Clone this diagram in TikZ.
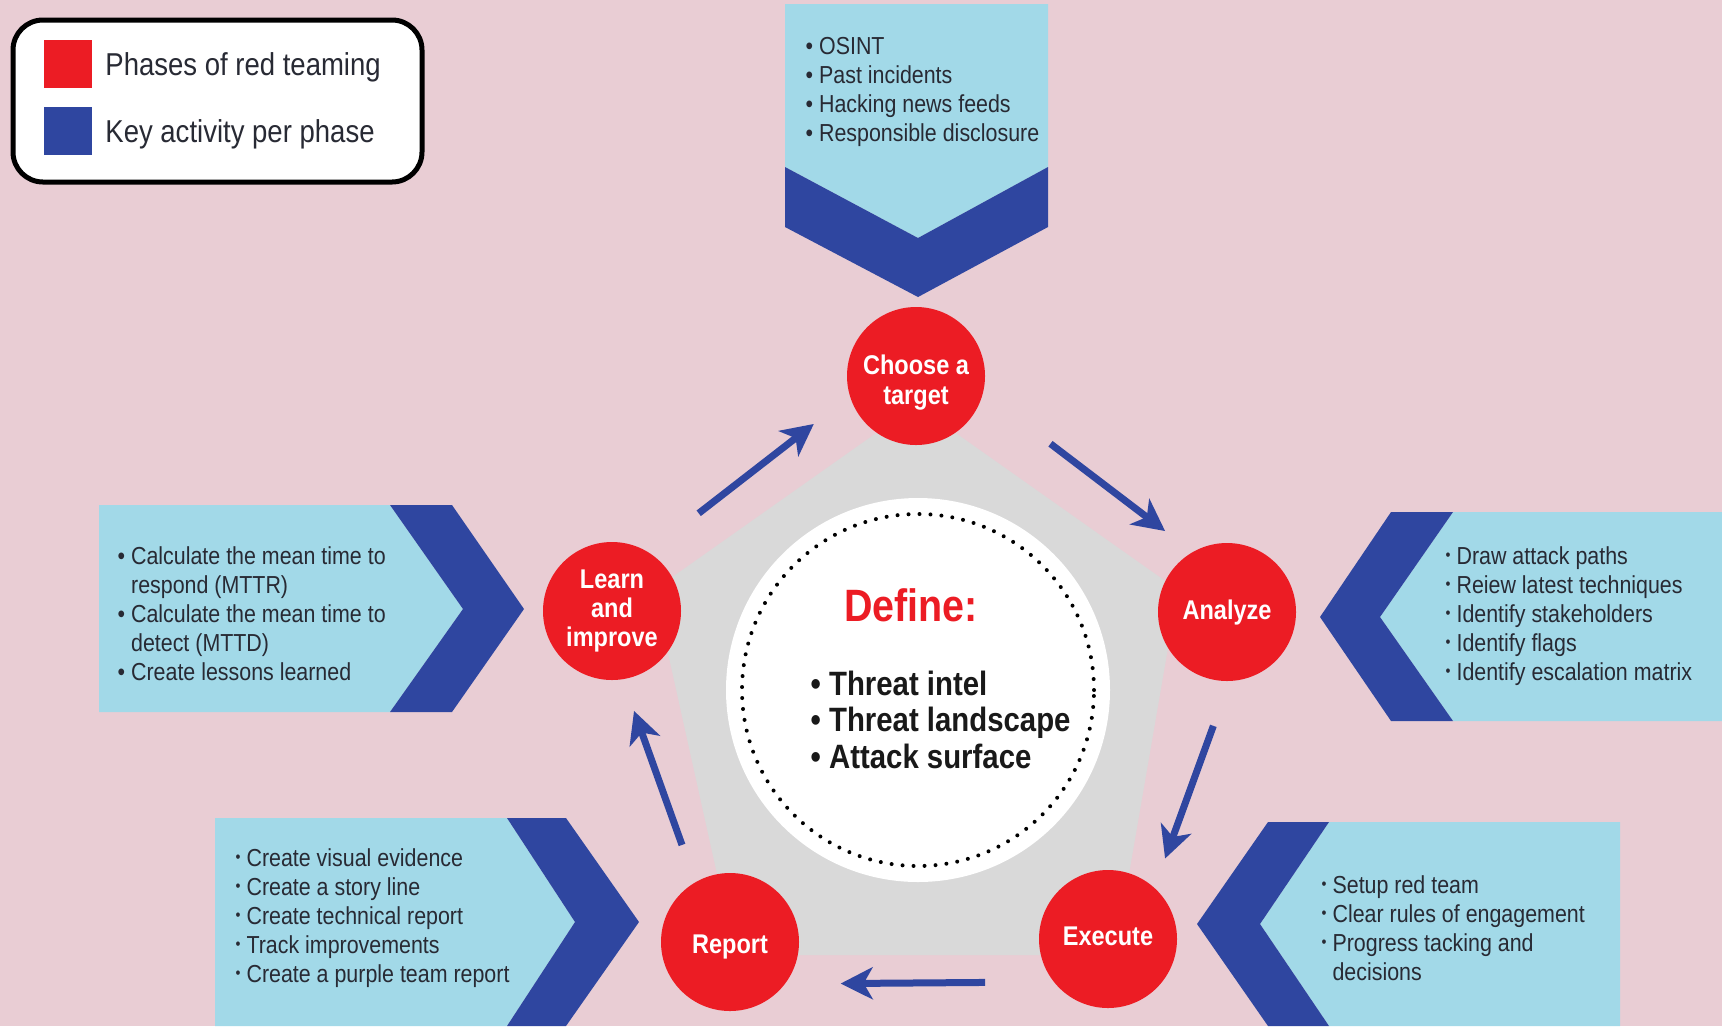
\documentclass[tikz,border=0pt]{standalone}
\usepackage{fontspec}
\setmainfont{Liberation Sans}[FakeStretch=0.87]
\usepackage{tikz}
\usetikzlibrary{arrows.meta}
\usetikzlibrary{positioning}
\definecolor{bgpink}{RGB}{233,205,212}
\definecolor{lightblue}{RGB}{162,217,232}
\definecolor{darkblue}{RGB}{47,70,160}
\definecolor{phasered}{RGB}{236,28,36}
\definecolor{hubgray}{RGB}{217,217,217}
\definecolor{inktext}{RGB}{40,42,52}
\tikzset{phase/.style = {circle, fill = phasered, text = white, minimum size = 13.8mm,
                         inner sep = 0, align = center,
                         font = \bfseries\fontsize{7.7}{8.3}\selectfont}}
\tikzset{notes/.style = {anchor = north west, inner sep = 0, align = left, text = inktext,
                         font = \fontsize{7}{8.25}\selectfont}}
\tikzset{flow/.style = {draw = darkblue, line width = 0.7mm,
                        -{Stealth[length = 3.2mm, width = 3.2mm, inset = 0.9mm]}}}
\tikzset{keysq/.style = {minimum size = 4.8mm, inner sep = 0}}
\tikzset{keytext/.style = {inner sep = 0, yshift = -0.3mm, text = inktext, font = \fontsize{9}{10}\selectfont}}
\newcommand{\bigbul}{\textbullet\ }
\newcommand{\smallbul}{\raisebox{1.2pt}{\fontsize{4.6}{4.6}\selectfont\textbullet}\ }

\begin{document}
\begin{tikzpicture}[x = 0.1mm, y = -0.1mm]
    \useasboundingbox (0, 0) rectangle (1722, 1026);
    \fill [bgpink] (0, 0) rectangle (1722, 1026);

    \fill [hubgray] (916, 405) -- (1178, 590) -- (1115, 955) -- (735, 955) -- (654, 590) -- cycle;
    \node [circle, fill = white, minimum size = 38.4mm, inner sep = 0] (hub) at (918, 690) {};
    \draw [line width = 0.4mm, line cap = round, dash pattern = on 0mm off 1.1mm] (hub.center) circle [radius = 17.6mm];

    \fill [lightblue] (785, 4) -- (1048, 4) -- (1048, 167) -- (918, 238) -- (785, 167) -- cycle;
    \fill [darkblue] (785, 167) -- (918, 238) -- (1048, 167) -- (1048, 227) -- (918, 297) -- (785, 227) -- cycle;
    \fill [lightblue] (99, 505) -- (390, 505) -- (463, 609) -- (390, 712) -- (99, 712) -- cycle;
    \fill [darkblue] (390, 505) -- (452, 505) -- (524, 609) -- (452, 712) -- (390, 712) -- (463, 609) -- cycle;
    \fill [lightblue] (1453, 512) -- (1722, 512) -- (1722, 721) -- (1453, 721) -- (1380, 617) -- cycle;
    \fill [darkblue] (1391, 512) -- (1453, 512) -- (1380, 617) -- (1453, 721) -- (1391, 721) -- (1320, 617) -- cycle;
    \fill [lightblue] (215, 818) -- (507, 818) -- (575, 922) -- (507, 1026) -- (215, 1026) -- cycle;
    \fill [darkblue] (507, 818) -- (566, 818) -- (639, 922) -- (566, 1026) -- (507, 1026) -- (575, 922) -- cycle;
    \fill [lightblue] (1329, 822) -- (1620, 822) -- (1620, 1026) -- (1329, 1026) -- (1260, 924) -- cycle;
    \fill [darkblue] (1268, 822) -- (1329, 822) -- (1260, 924) -- (1329, 1026) -- (1268, 1026) -- (1197, 924) -- cycle;

    \node [phase] (choose) at (916, 376) {\rule{0pt}{9.3pt}Choose a\\target};
    \node [phase] (analyze) at (1227, 612) {Analyze};
    \node [phase] (execute) at (1108, 939) {\rule[-1.7pt]{0pt}{0pt}Execute};
    \node [phase] (report) at (730, 942) {\rule{0pt}{8pt}Report};
    \node [phase] (learn) at (612, 611) {Learn\\and\\improve};

    \draw [flow, shorten <= 6.3mm, shorten >= 4.5mm] (learn.58) -- (choose.197);
    \draw [flow, shorten <= 8.4mm, shorten >= 3.4mm] (choose.-14) -- (analyze.120);
    \draw [flow, shorten <= 4.7mm, shorten >= 3.05mm] (analyze.-88) -- (execute.48);
    \draw [flow, shorten <= 6.8mm, shorten >= 5.5mm] (execute.-142) -- (report.-37);
    \draw [flow, shorten <= 3.9mm, shorten >= 3.3mm] (report.120) -- (learn.279);

    \node [text = phasered, font = \bfseries\fontsize{12.9}{14}\selectfont] (definetitle) at (911, 605) {Define:};
    \node [notes, text = black!90, font = \bfseries\fontsize{9.6}{10.4}\selectfont] (definelist) at (810, 670)
        {\bigbul Threat intel\\ \bigbul Threat landscape\\ \bigbul Attack surface};

    \node [notes] (choosenotes) at (805, 37)
        {\bigbul OSINT\\ \bigbul Past incidents\\ \bigbul Hacking news feeds\\ \bigbul Responsible disclosure};
    \node [notes] (learnnotes) at (117, 546)
        {\bigbul Calculate the mean time to\\ \phantom{\bigbul}respond (MTTR)\\
         \bigbul Calculate the mean time to\\ \phantom{\bigbul}detect (MTTD)\\ \bigbul Create lessons learned};
    \node [notes] (analyzenotes) at (1445, 546)
        {\smallbul Draw attack paths\\ \smallbul Reiew latest techniques\\ \smallbul Identify stakeholders\\
         \smallbul Identify flags\\ \smallbul Identify escalation matrix};
    \node [notes] (reportnotes) at (235, 848)
        {\smallbul Create visual evidence\\ \smallbul Create a story line\\ \smallbul Create technical report\\
         \smallbul Track improvements\\ \smallbul Create a purple team report};
    \node [notes] (executenotes) at (1321, 875)
        {\smallbul Setup red team\\ \smallbul Clear rules of engagement\\ \smallbul Progress tacking and\\
         \phantom{\smallbul}decisions};

    \draw [line width = 0.5mm, rounded corners = 3mm, fill = white] (13, 20) rectangle (422, 182);
    \node [keysq, fill = phasered] (keyred) at (68, 64) {};
    \node [keysq, fill = darkblue] (keyblue) at (68, 131) {};
    \node [keytext, right = 1.2mm of keyred] (keyredtext) {Phases of red teaming};
    \node [keytext, right = 1.2mm of keyblue] (keybluetext) {Key activity per phase};
\end{tikzpicture}
\end{document}
